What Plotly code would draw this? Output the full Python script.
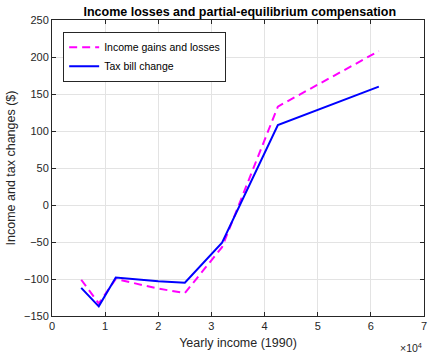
import plotly.graph_objects as go

income = [5500, 8800, 12000, 20000, 25000, 32000, 42500, 61500]
gains_losses = [-101, -133, -100, -113, -119, -57, 133, 208]
tax_change = [-112, -137, -98, -103, -105, -51, 108, 160]

x_tickvals = [0, 10000, 20000, 30000, 40000, 50000, 60000, 70000]
x_ticktext = ["0", "1", "2", "3", "4", "5", "6", "7"]
y_tickvals = [-150, -100, -50, 0, 50, 100, 150, 200, 250]

axcol = "#262626"
font = "Liberation Sans, Arial, sans-serif"

fig = go.Figure()
fig.add_trace(go.Scatter(x=income, y=gains_losses, mode="lines",
                         name="Income gains and losses",
                         line=dict(color="#ff00ff", width=2, dash="8px,5px")))
fig.add_trace(go.Scatter(x=income, y=tax_change, mode="lines",
                         name="Tax bill change",
                         line=dict(color="#0000ff", width=2)))

axis_common = dict(showline=True, linecolor=axcol, linewidth=1, mirror="ticks",
                   ticks="inside", ticklen=4, tickcolor=axcol,
                   showgrid=True, gridcolor="#e3e3e3", gridwidth=1,
                   zeroline=False, tickfont=dict(size=11, color=axcol, family=font))

fig.update_xaxes(range=[0, 70000], tickvals=x_tickvals, ticktext=x_ticktext,
                 title=dict(text="Yearly income (1990)", font=dict(size=12.5, color=axcol, family=font),
                            standoff=7),
                 **axis_common)
fig.update_yaxes(range=[-150, 250], tickvals=y_tickvals,
                 title=dict(text="Income and tax changes ($)", font=dict(size=12.5, color=axcol, family=font),
                            standoff=5),
                 **axis_common)

fig.update_layout(
    width=432, height=353,
    margin=dict(l=52, r=5, t=20, b=36),
    paper_bgcolor="white", plot_bgcolor="white",
    font=dict(family=font, color=axcol),
    title=dict(text="<b>Income losses and partial-equilibrium compensation</b>",
               x=0.555, xanchor="center", y=0.98, yanchor="top",
               font=dict(size=12.5, color="black", family=font)),
    legend=dict(x=0.03, y=0.96, xanchor="left", yanchor="top",
                bgcolor="white", bordercolor=axcol, borderwidth=1,
                font=dict(size=10.5, color="black", family=font),
                tracegroupgap=0, itemwidth=30),
    showlegend=True,
)
fig.add_annotation(text="\u00d710<sup>4</sup>", xref="paper", yref="paper",
                   x=1.0, y=-0.108, xanchor="right", yanchor="middle", showarrow=False,
                   font=dict(size=10.5, color=axcol, family=font))

fig.write_html("out.html")
